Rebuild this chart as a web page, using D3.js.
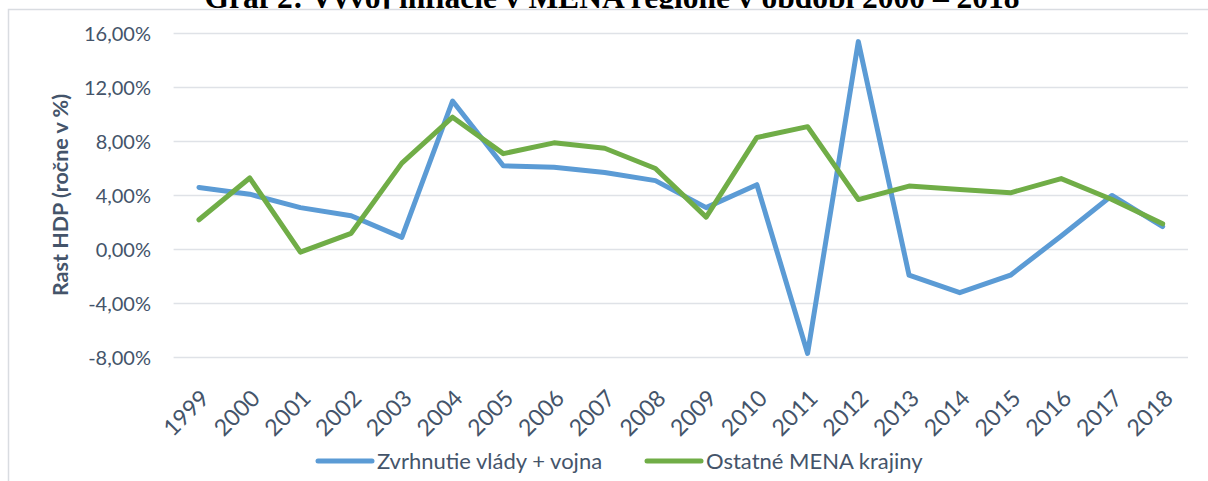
<!DOCTYPE html>
<html>
<head>
<meta charset="utf-8">
<script src="https://cdn.jsdelivr.net/npm/d3@7"></script>
<style>
  body { margin: 0; background: #fff; }
  svg { display: block; }
  .tick-lbl { font-family: Lato, "Open Sans", sans-serif; font-size: 20px; fill: #44546a; }
  .year-lbl { font-family: Lato, "Open Sans", sans-serif; font-size: 23px; fill: #44546a; }
  .leg-lbl { font-family: Lato, "Open Sans", sans-serif; font-size: 22px; fill: #44546a; }
</style>
</head>
<body>
<div id="vis1"></div>
<script>
const FRAME_WIDTH = 1208;
const FRAME_HEIGHT = 481;

// data
const YEARS = ["1999","2000","2001","2002","2003","2004","2005","2006","2007","2008",
               "2009","2010","2011","2012","2013","2014","2015","2016","2017","2018"];
const WAR = [4.6, 4.1, 3.1, 2.5, 0.9, 11.0, 6.2, 6.1, 5.7, 5.1,
             3.1, 4.8, -7.7, 15.4, -1.9, -3.2, -1.9, 1.0, 4.0, 1.7];
const OTHER = [2.2, 5.3, -0.2, 1.2, 6.4, 9.8, 7.1, 7.9, 7.5, 6.0,
               2.4, 8.3, 9.1, 3.7, 4.7, 4.45, 4.2, 5.25, 3.7, 1.9];
const Y_TICKS = [-8, -4, 0, 4, 8, 12, 16];
const SERIES_NAMES = ["Zvrhnutie vlády + vojna", "Ostatné MENA krajiny"];
const COLORS = ["#5b9bd5", "#70ad47"];

const FRAME1 = d3.select("#vis1")
                 .append("svg")
                 .attr("width", FRAME_WIDTH)
                 .attr("height", FRAME_HEIGHT);

// title (partly hidden behind the chart box, like in the document)
FRAME1.append("text")
      .attr("x", 612)
      .attr("y", 7.5)
      .attr("text-anchor", "middle")
      .style("font-family", "'Liberation Serif', 'Times New Roman', serif")
      .style("font-weight", "bold")
      .style("font-size", "31.5px")
      .attr("fill", "#000")
      .text("Graf 2: Vývoj inflácie v MENA regióne v období 2000 – 2018");

// chart box
FRAME1.append("rect")
      .attr("x", 8.5).attr("y", 9.5)
      .attr("width", 1260).attr("height", 520)
      .attr("fill", "#fff")
      .attr("stroke", "#d9dce1")
      .attr("stroke-width", 1.5);

const X_Scale = d3.scalePoint()
                  .domain(YEARS)
                  .range([173.6, 1188])
                  .padding(0.5);
const Y_Scale = d3.scaleLinear()
                  .domain([-8, 16])
                  .range([357.5, 33.5]);

// gridlines
FRAME1.append("g")
      .selectAll("line")
      .data(Y_TICKS)
      .enter().append("line")
      .attr("x1", 173.6).attr("x2", 1188)
      .attr("y1", d => Y_Scale(d)).attr("y2", d => Y_Scale(d))
      .attr("stroke", "#dfe2e7")
      .attr("stroke-width", 1.5);

// y labels
const fmt = d => d.toFixed(2).replace(".", ",") + "%";
FRAME1.append("g")
      .selectAll("text")
      .data(Y_TICKS)
      .enter().append("text")
      .attr("class", "tick-lbl")
      .attr("x", 151)
      .attr("y", d => Y_Scale(d))
      .attr("dy", "0.35em")
      .attr("text-anchor", "end")
      .text(fmt);

// x labels, rotated
FRAME1.append("g")
      .selectAll("text")
      .data(YEARS)
      .enter().append("text")
      .attr("class", "year-lbl")
      .attr("text-anchor", "end")
      .attr("dy", "0.35em")
      .attr("transform", d => "translate(" + (X_Scale(d) + 6) + ",394) rotate(-45)")
      .text(d => d);

// y axis title
FRAME1.append("text")
      .attr("transform", "translate(60,195) rotate(-90)")
      .attr("text-anchor", "middle")
      .attr("dy", "0.35em")
      .style("font-family", "Lato, 'Open Sans', sans-serif")
      .style("font-weight", "bold")
      .style("font-size", "21.5px")
      .attr("fill", "#44546a")
      .text("Rast HDP (ročne v %)");

// lines
const line = d3.line()
               .x((d, i) => X_Scale(YEARS[i]))
               .y(d => Y_Scale(d));

[WAR, OTHER].forEach((vals, k) => {
  FRAME1.append("path")
        .datum(vals)
        .attr("d", line)
        .attr("fill", "none")
        .attr("stroke", COLORS[k])
        .attr("stroke-width", 5)
        .attr("stroke-linejoin", "round")
        .attr("stroke-linecap", "round");
});

// legend
const LEG_X = [318, 647];
SERIES_NAMES.forEach((name, k) => {
  FRAME1.append("line")
        .attr("x1", LEG_X[k]).attr("x2", LEG_X[k] + 54)
        .attr("y1", 461).attr("y2", 461)
        .attr("stroke", COLORS[k])
        .attr("stroke-width", 5)
        .attr("stroke-linecap", "round");
  FRAME1.append("text")
        .attr("class", "leg-lbl")
        .attr("x", LEG_X[k] + 59)
        .attr("y", 461)
        .attr("dy", "0.35em")
        .text(name);
});
</script>
</body>
</html>
